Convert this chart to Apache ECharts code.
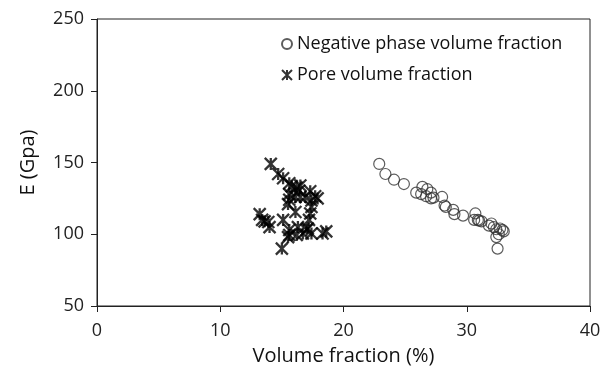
<!DOCTYPE html>
<html>
<head>
<meta charset="utf-8">
<script src="https://cdn.jsdelivr.net/npm/echarts@6/dist/echarts.min.js"></script>
<style>
  html, body { margin: 0; padding: 0; background: #fff; }
  #chart { width: 603px; height: 369px; }
</style>
</head>
<body>
<div id="chart"></div>
<script>
// Negative phase volume fraction (%), E (GPa)
const negX = [22.9, 23.4, 24.1, 24.9, 25.9, 26.4, 26.8, 26.3, 26.7, 27.1, 27.1, 27.3, 28.0, 28.2, 28.3,
  28.9, 29.0, 29.7, 30.7, 30.6, 30.9, 31.0, 31.2, 31.8, 32.0, 32.2, 32.4, 32.7, 32.9, 32.4, 32.5, 33.0, 32.6];
const negY = [149, 142, 138, 135, 129, 133, 131.5, 128, 126.5, 125, 129, 125.5, 126, 120, 119,
  117, 114, 113, 114.5, 110, 110, 109.5, 109, 106, 107.5, 105, 103.5, 104, 103, 98, 90, 102, 100];

// Pore volume fraction (%), E (GPa)
const poreX = [14.1, 14.7, 15.1, 15.6, 15.8, 16.2, 16.5, 16.4, 15.6, 16.1, 16.5, 16.9, 17.3, 17.7, 17.9,
  17.4, 15.6, 15.5, 16.1, 17.4, 17.3, 13.2, 13.4, 13.9, 14.0, 15.1, 15.6, 15.5, 16.2, 16.3,
  17.0, 17.4, 17.2, 18.3, 18.6, 15.0, 15.6, 16.7, 13.6, 17.1];
const poreY = [149, 142, 139, 135.5, 133.5, 132.5, 134, 130.5, 128, 126, 126, 126, 130, 126.5, 125,
  123.5, 124, 121, 115.5, 119, 114.5, 114, 110, 108.5, 105, 110, 103, 98, 99.5, 105,
  103, 100.5, 110, 100.5, 102, 90, 99.5, 100.5, 109, 104];

const xTicks = [0, 10, 20, 30, 40];
const yTicks = [50, 100, 150, 200, 250];

const seriesNames = ['Negative phase volume fraction', 'Pore volume fraction'];

const font = 'Open Sans';
const starPath = 'path://M0,0L10,10M10,0L0,10M5,0L5,10';

const chart = echarts.init(document.getElementById('chart'));

const option = {
  animation: false,
  backgroundColor: '#fff',
  textStyle: { fontFamily: font },
  grid: {
    left: 97, right: 13, top: 19, bottom: 63,
    outerBoundsMode: 'none',
    show: true, borderColor: '#222', borderWidth: 1
  },
  legend: {
    orient: 'vertical',
    left: 276,
    top: 30,
    itemGap: 13,
    itemWidth: 10,
    itemHeight: 10,
    textStyle: { fontFamily: font, fontSize: 18, color: '#111' },
    data: seriesNames
  },
  xAxis: {
    type: 'value',
    min: xTicks[0],
    max: xTicks[xTicks.length - 1],
    interval: 10,
    name: 'Volume fraction (%)',
    nameLocation: 'middle',
    nameGap: 40,
    nameTextStyle: { fontFamily: font, fontSize: 20, color: '#111' },
    axisLine: { show: true, onZero: false, lineStyle: { color: '#222' } },
    axisTick: { show: true, inside: false, length: 6, lineStyle: { color: '#222' } },
    axisLabel: { fontFamily: font, fontSize: 18, color: '#222', margin: 16 },
    splitLine: { show: false }
  },
  yAxis: {
    type: 'value',
    min: yTicks[0],
    max: yTicks[yTicks.length - 1],
    interval: 50,
    name: 'E (Gpa)',
    nameLocation: 'middle',
    nameGap: 59,
    nameTextStyle: { fontFamily: font, fontSize: 20, color: '#111' },
    axisLine: { show: true, onZero: false, lineStyle: { color: '#222' } },
    axisTick: { show: true, inside: false, length: 6, lineStyle: { color: '#222' } },
    axisLabel: { fontFamily: font, fontSize: 18, color: '#222', margin: 13 },
    splitLine: { show: false }
  },
  series: [
    {
      name: seriesNames[0],
      type: 'scatter',
      symbol: 'circle',
      symbolSize: 11,
      itemStyle: { color: 'rgba(255,255,255,0)', borderColor: '#333', borderWidth: 1.2 },
      data: negX.map((x, i) => [x, negY[i]])
    },
    {
      name: seriesNames[1],
      type: 'scatter',
      symbol: starPath,
      symbolSize: 12,
      itemStyle: { color: 'rgba(0,0,0,0)', borderColor: '#000', borderWidth: 2.3 },
      data: poreX.map((x, i) => [x, poreY[i]])
    }
  ]
};

chart.setOption(option);
</script>
</body>
</html>
